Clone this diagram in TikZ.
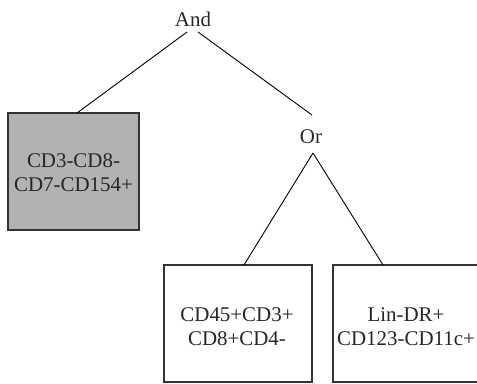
\documentclass[tikz,border=0pt]{standalone}
\usepackage{fontspec}
\setmainfont{Liberation Serif}
\begin{document}
\begin{tikzpicture}[x=1bp,y=-1bp,
  lbl/.style={font=\fontsize{21}{24}\selectfont, text=black!85, align=center, inner sep=0pt},
  box/.style={draw=black!80, line width=1.1bp, inner sep=0pt},
  conn/.style={draw=black, line width=0.9bp}]
\useasboundingbox (0,0) rectangle (477,383);
\clip (0,0) rectangle (477,383);
% boxes
\node[box, fill=black!30, minimum width=131bp, minimum height=117bp] (g) at (73.5,171.5) {};
\node[box, minimum width=148bp, minimum height=117bp] (b3) at (238,323.5) {};
\node[box, minimum width=148bp, minimum height=117bp] (b4) at (407,323.5) {};
% texts
\node[lbl] (and) at (193,19) {And};
\node[lbl] (or) at (311,137) {Or};
\node[lbl] (gt) at (73.5,173) {CD3-CD8-\\CD7-CD154+};
\node[lbl] (b3t) at (237,327) {CD45+CD3+\\CD8+CD4-};
\node[lbl] (b4t) at (406,327) {Lin-DR+\\CD123-CD11c+};
% connector end points
\coordinate (andL) at (187,32);
\coordinate (andR) at (198,32);
\coordinate (orT) at (313,153);
\coordinate (gT) at (77,113);
\coordinate (orB) at (312,115);
\coordinate (b3T) at (244,265);
\coordinate (b4T) at (383,265);
\draw[conn] (andL) -- (gT);
\draw[conn] (andR) -- (orB);
\draw[conn] (orT) -- (b3T);
\draw[conn] (orT) -- (b4T);
\end{tikzpicture}
\end{document}
